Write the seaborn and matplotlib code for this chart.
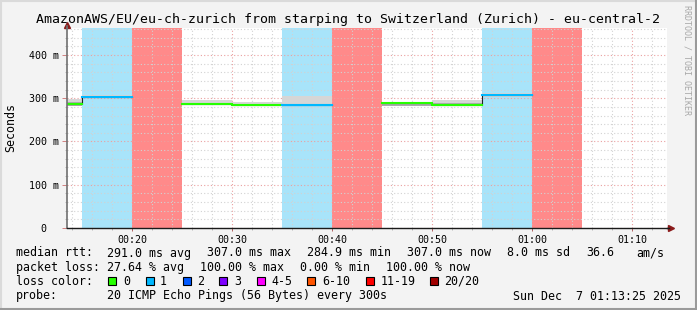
import numpy as np
import pandas as pd
import matplotlib
matplotlib.use("Agg")
import matplotlib.pyplot as plt
from matplotlib.patches import Rectangle
from matplotlib.lines import Line2D
import seaborn as sns

# ---------------- data ----------------
bin_start = [10, 15, 20, 25, 30, 35, 40, 45, 50, 55, 60]   # minutes after 00:00, 5-min steps
median_ms = [286.0, 303.5, np.nan, 286.7, 284.9, 285.5, np.nan, 289.5, 285.0, 307.0, np.nan]
loss = [0, 1, 20, 0, 0, 1, 20, 0, 0, 1, 20]
smoke_lo = [282.0, 302.0, np.nan, 285.0, 281.5, 284.0, np.nan, 282.0, 283.5, 303.5, np.nan]
smoke_hi = [297.5, 306.5, np.nan, 296.0, 290.5, 305.0, np.nan, 291.0, 296.0, 311.0, np.nan]
inner_lo = [282.0, 302.0, np.nan, 285.0, 282.0, 284.0, np.nan, 282.0, 284.0, 305.0, np.nan]
inner_hi = [290.5, 304.0, np.nan, 290.0, 287.0, 287.0, np.nan, 289.5, 288.0, 309.0, np.nan]

x_ticks = [20, 30, 40, 50, 60, 70]
x_tick_labels = ["00:20", "00:30", "00:40", "00:50", "01:00", "01:10"]
y_ticks = [0, 100, 200, 300, 400]
y_tick_labels = ["0  ", "100 m", "200 m", "300 m", "400 m"]

title = "AmazonAWS/EU/eu-ch-zurich from starping to Switzerland (Zurich) - eu-central-2"
legend_keys = ["0", "1", "2", "3", "4-5", "6-10", "11-19", "20/20"]
legend_colors = ["#26ff00", "#00b8ff", "#0059ff", "#7e00ff", "#ff00ff", "#ff5500", "#ff0000", "#a10000"]

line_colors = {0: "#26ff00", 1: "#00b8ff"}
band_colors = {1: "#a8e4fa", 20: "#ff8a8a"}

t_start, t_end = 13.42, 73.42
y_top = 462.4
STEP = 5

# ---------------- figure ----------------
W, H = 697, 310
MONO = "DejaVu Sans Mono"
plt.rcParams["font.family"] = [MONO]

fig = plt.figure(figsize=(W / 100, H / 100), dpi=100, facecolor="#f3f3f3")
ax = fig.add_axes([66.6 / W, (H - 228) / H, 600 / W, 200 / H])
ax.set_facecolor("white")

def px(x, y):
    return x / W, 1 - y / H

# loss background bands
for s, l in zip(bin_start, loss):
    if l in band_colors:
        ax.axvspan(s, s + STEP, color=band_colors[l], lw=0, zorder=1)

# smoke
lo = np.array(smoke_lo); hi = np.array(smoke_hi)
ilo = np.array(inner_lo); ihi = np.array(inner_hi)
ax.bar(bin_start, hi - lo, bottom=lo, width=STEP, align="edge", color="#d6d6d6", lw=0, zorder=3)
ax.bar(bin_start, ihi - ilo, bottom=ilo, width=STEP, align="edge", color="#ababab", lw=0, zorder=3.1)

# black median step line (connectors)
edges = list(bin_start) + [bin_start[-1] + STEP]
vals = list(median_ms) + [median_ms[-1]]
ax.step(edges, vals, where="post", color="#202020", lw=0.8, zorder=3.5)

# colored median segments via seaborn
rows = []
for i, (s, m, l) in enumerate(zip(bin_start, median_ms, loss)):
    if not np.isnan(m):
        rows.append({"t": s, "rtt": m, "bin": i, "loss": l})
        rows.append({"t": s + STEP, "rtt": m, "bin": i, "loss": l})
df = pd.DataFrame(rows)
sns.lineplot(data=df, x="t", y="rtt", hue="loss", units="bin", estimator=None,
             palette=line_colors, linewidth=1.5, legend=False, sort=False, ax=ax, zorder=4)

ax.set_xlim(t_start, t_end)
ax.set_ylim(0, y_top)
ax.set_xlabel("")
ax.set_ylabel("")

# ticks & grid
ax.set_xticks(x_ticks)
ax.set_xticklabels(x_tick_labels)
ax.set_xticks([m for m in range(14, 74, 2) if m % 10 != 0], minor=True)
ax.set_yticks(y_ticks)
ax.set_yticklabels(y_tick_labels)
ax.set_yticks([v for v in range(20, 461, 20) if v % 100 != 0], minor=True)

ax.set_axisbelow(False)
ax.grid(which="major", color="#eaa0a0", linestyle=(0, (1, 2)), linewidth=0.8, zorder=2)
ax.grid(which="minor", color="#d2d2d2", linestyle=(0, (1, 2)), linewidth=0.8, zorder=2)
for gl in ax.get_xgridlines() + ax.get_ygridlines():
    gl.set_zorder(2)

ax.tick_params(axis="x", which="major", length=2.2, width=0.7, color="#b06060",
               labelsize=7.2, pad=2.5, direction="out")
ax.tick_params(axis="y", which="major", length=3.6, width=0.7, color="#d08080",
               labelsize=7.2, pad=2.0, direction="out")
ax.tick_params(which="minor", length=1.5, width=0.6, color="#b0b0b0")
for lab in ax.get_xticklabels() + ax.get_yticklabels():
    lab.set_family(MONO)

for side in ("top", "right"):
    ax.spines[side].set_visible(False)
ax.spines["left"].set_color("#707070")
ax.spines["left"].set_linewidth(1.2)
ax.spines["bottom"].set_color("#1a1a1a")
ax.spines["bottom"].set_linewidth(1.0)
ax.spines["left"].set_zorder(5)
ax.spines["bottom"].set_zorder(5)

# axis arrows
ax.plot([1 + 4 / 600], [0], marker=">", ms=4.5, color="#8b1a1a", transform=ax.transAxes, clip_on=False)
ax.plot([1 + 2 / 600, 1 + 0 / 600], [0, 0], color="#1a1a1a", lw=1, transform=ax.transAxes, clip_on=False)
ax.plot([0], [1 + 3.5 / 200], marker="^", ms=4.5, color="#8b1a1a", transform=ax.transAxes, clip_on=False)
ax.plot([0, 0], [1, 1 + 2 / 200], color="#707070", lw=1.2, transform=ax.transAxes, clip_on=False)

# texts
fig.text(*px(348, 19), title, ha="center", va="center", fontsize=9.55, family=MONO, color="black")
fig.text(*px(11, 128), "Seconds", rotation=90, ha="center", va="center", fontsize=8.4, family=MONO)
fig.text(*px(686.5, 60), "RRDTOOL / TOBI OETIKER", rotation=270, ha="center", va="center",
         fontsize=6.0, family=MONO, color="#a8a8a8")

LFS = 8.37
def ltxt(x, y, s, ha="left"):
    fig.text(*px(x, y), s, ha=ha, va="center", fontsize=LFS, family=MONO, color="black")

y1, y2, y3, y4 = 253, 267.5, 281.5, 296
ltxt(16, y1, "median rtt:")
for x, s in zip([107, 207, 307, 407, 507, 586, 636],
                ["291.0 ms avg", "307.0 ms max", "284.9 ms min", "307.0 ms now", "8.0 ms sd", "36.6", "am/s"]):
    ltxt(x, y1, s)
ltxt(16, y2, "packet loss:")
for x, s in zip([107, 200, 300, 386],
                ["27.64 % avg", "100.00 % max", "0.00 % min", "100.00 % now"]):
    ltxt(x, y2, s)
ltxt(16, y3, "loss color:")
box_x = [108, 146, 182.5, 219, 256.5, 307, 365.5, 430]
txt_x = [123.5, 160, 197.5, 234, 271.5, 322, 380.5, 444.5]
for bx, tx, k, c in zip(box_x, txt_x, legend_keys, legend_colors):
    fig.add_artist(Rectangle(px(bx, 284.5), 8 / W, 8 / H, transform=fig.transFigure,
                             facecolor=c, edgecolor="black", lw=0.8))
    ltxt(tx, y3, k)
ltxt(16, y4, "probe:")
ltxt(107, y4, "20 ICMP Echo Pings (56 Bytes) every 300s")
ltxt(681, y4, "Sun Dec  7 01:13:25 2025", ha="right")

# 3D frame
fig.add_artist(Line2D([0, 1], [1 - 1 / H, 1 - 1 / H], transform=fig.transFigure, color="#dadada", lw=1.5))
fig.add_artist(Line2D([1 / W, 1 / W], [0, 1], transform=fig.transFigure, color="#dadada", lw=1.5))
fig.add_artist(Line2D([0, 1], [1 / H, 1 / H], transform=fig.transFigure, color="#9a9a9a", lw=1.5))
fig.add_artist(Line2D([1 - 1 / W, 1 - 1 / W], [0, 1], transform=fig.transFigure, color="#9a9a9a", lw=1.5))

fig.savefig("out.png", dpi=100, facecolor=fig.get_facecolor())
